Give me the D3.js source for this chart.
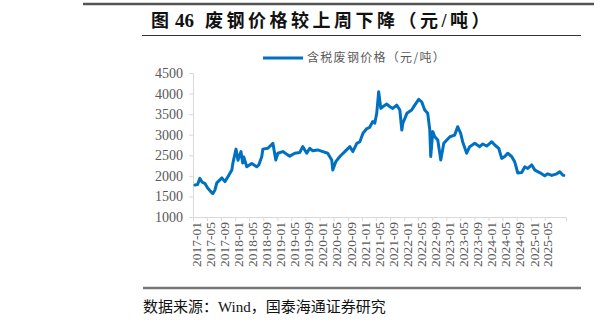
<!DOCTYPE html>
<html>
<head>
<meta charset="utf-8">
<script src="https://cdn.jsdelivr.net/npm/d3@7"></script>
<style>
  html, body { margin: 0; padding: 0; background: #fff; }
  svg { display: block; }
</style>
</head>
<body>
<svg id="chart" width="600" height="323"></svg>
<script>
// ---- Data ----
const titleText = "废钢价格较上周下降（元/吨）";
const seriesName = "含税废钢价格（元/吨）";
const sourceText = "数据来源：Wind，国泰海通证券研究";

const dates = [
  "2017-01-18","2017-02-10","2017-03-01","2017-03-20","2017-04-13","2017-05-09","2017-06-13","2017-06-22","2017-07-09","2017-07-26",
  "2017-09-08","2017-10-04","2017-10-30","2017-12-03","2017-12-12","2018-01-08","2018-01-25","2018-02-20","2018-03-07","2018-03-16",
  "2018-04-11","2018-05-24","2018-07-06","2018-07-24","2018-08-19","2018-08-28","2018-10-10","2018-11-23","2018-12-18","2019-01-05",
  "2019-02-17","2019-03-31","2019-04-18","2019-05-31","2019-07-13","2019-08-08","2019-09-12","2019-10-08","2019-11-03","2019-12-16",
  "2020-01-29","2020-03-11","2020-04-15","2020-04-24","2020-05-20","2020-06-24","2020-08-06","2020-09-19","2020-10-14","2020-11-18",
  "2020-12-14","2021-01-10","2021-02-13","2021-03-09","2021-04-05","2021-04-22","2021-05-09","2021-05-26","2021-06-13","2021-06-30",
  "2021-08-04","2021-08-30","2021-09-25","2021-10-29","2021-11-25","2021-12-12","2021-12-21","2022-01-25","2022-03-07","2022-04-03",
  "2022-05-07","2022-06-02","2022-06-28","2022-07-24","2022-08-11","2022-08-19","2022-09-06","2022-09-23","2022-10-19","2022-11-14",
  "2022-12-10","2023-01-05","2023-02-01","2023-03-14","2023-04-09","2023-05-05","2023-05-22","2023-06-26","2023-07-22","2023-09-04",
  "2023-10-17","2023-11-12","2023-12-16","2024-01-29","2024-02-24","2024-03-29","2024-04-24","2024-05-20","2024-06-15","2024-07-19",
  "2024-08-14","2024-09-10","2024-10-14","2024-11-10","2024-12-05","2025-01-09","2025-02-05","2025-03-18","2025-05-01","2025-05-27",
  "2025-07-01","2025-08-13","2025-09-08","2025-10-04","2025-10-13"
];
const prices = [
  1780,1790,1940,1850,1820,1700,1590,1570,1650,1830,
  1950,1860,1980,2140,2310,2650,2380,2590,2310,2460,
  2220,2300,2220,2265,2470,2650,2670,2790,2385,2550,
  2590,2510,2480,2550,2565,2710,2550,2670,2610,2630,
  2590,2550,2385,2140,2345,2470,2590,2710,2590,2790,
  2830,3035,3150,3180,3320,3280,3520,4045,3640,3680,
  3745,3680,3640,3720,3600,3115,3280,3520,3600,3720,
  3860,3800,3600,3520,3115,2470,3075,2950,2870,2385,
  2790,2870,2950,2990,3195,3035,2830,2550,2710,2790,
  2710,2775,2725,2830,2750,2670,2425,2470,2550,2470,
  2345,2070,2080,2220,2180,2265,2140,2080,2000,2050,
  2010,2050,2100,2020,2010
];

const xTickLabels = [
  "2017-01","2017-05","2017-09","2018-01","2018-05","2018-09","2019-01","2019-05","2019-09",
  "2020-01","2020-05","2020-09","2021-01","2021-05","2021-09","2022-01","2022-05","2022-09",
  "2023-01","2023-05","2023-09","2024-01","2024-05","2024-09","2025-01","2025-05"
];
const yTicks = [1000,1500,2000,2500,3000,3500,4000,4500];
const xDomain = ["2017-01-01","2025-11-01"];

// ---- Drawing ----
const svg = d3.select("#chart");
const parse = d3.timeParse("%Y-%m-%d");
const parseM = d3.timeParse("%Y-%m");
const data = dates.map((d, i) => ({ date: parse(d), value: prices[i] }));

const plotLeft = 193, plotRight = 566, plotTop = 73, plotBottom = 217;
const x = d3.scaleTime().domain(xDomain.map(parse)).range([plotLeft, plotRight]);
const y = d3.scaleLinear().domain([1000, 4500]).range([plotBottom, plotTop]);

const axisColor = "#d9d9d9";
const labelColor = "#595959";
const serif = "'Liberation Serif', 'Times New Roman', 'Noto Sans CJK SC', serif";
const cjk = "'Liberation Serif', 'Noto Sans CJK SC', sans-serif";

// decorative rules
svg.append("line").attr("x1", 83).attr("x2", 594).attr("y1", 4).attr("y2", 4)
  .attr("stroke", "#555").attr("stroke-width", 2.5);
svg.append("line").attr("x1", 142).attr("x2", 581).attr("y1", 35.5).attr("y2", 35.5)
  .attr("stroke", "#333").attr("stroke-width", 1);
svg.append("line").attr("x1", 143).attr("x2", 581).attr("y1", 288).attr("y2", 288)
  .attr("stroke", "#777").attr("stroke-width", 2.5);

// title
const title = svg.append("text").attr("y", 27).attr("font-weight", "bold")
  .attr("fill", "#111").style("font-family", cjk).attr("font-size", 18);
title.append("tspan").attr("x", 151).text("图");
title.append("tspan").attr("x", 175).attr("font-size", 19)
  .style("font-family", "'Liberation Serif', serif").text("46");
title.append("tspan").attr("x", 205).attr("letter-spacing", 3.5).text(titleText);

// legend
svg.append("line").attr("x1", 263).attr("x2", 303).attr("y1", 58).attr("y2", 58)
  .attr("stroke", "#0070C0").attr("stroke-width", 3);
svg.append("text").attr("x", 307).attr("y", 62).attr("font-size", 12)
  .attr("letter-spacing", 1.3).attr("fill", labelColor)
  .style("font-family", "'Noto Sans CJK SC', sans-serif").text(seriesName);

// y axis
const yAxis = d3.axisLeft(y).tickValues(yTicks).tickSize(4).tickPadding(6).tickFormat(d3.format("d"));
const gy = svg.append("g").attr("transform", `translate(${plotLeft},0)`).call(yAxis);
gy.select(".domain").attr("stroke", axisColor);
gy.selectAll(".tick line").attr("stroke", axisColor);
gy.selectAll(".tick text").attr("fill", labelColor).attr("font-size", 14)
  .style("font-family", serif);

// x axis
const xTickDates = xTickLabels.map(parseM);
const xAxis = d3.axisBottom(x).tickValues(xTickDates).tickSize(4).tickFormat(d3.timeFormat("%Y-%m"));
const gx = svg.append("g").attr("transform", `translate(0,${plotBottom})`).call(xAxis);
gx.select(".domain").attr("stroke", axisColor);
gx.selectAll(".tick line").attr("stroke", axisColor);
gx.selectAll(".tick text")
  .attr("fill", labelColor).attr("font-size", 13.5).style("font-family", serif)
  .attr("text-anchor", "end")
  .attr("transform", "translate(2.5,5) rotate(-90)")
  .attr("x", 0).attr("y", 0).attr("dy", "0.35em");

// series line
const line = d3.line().x(d => x(d.date)).y(d => y(d.value));
svg.append("path").datum(data).attr("d", line)
  .attr("fill", "none").attr("stroke", "#0070C0").attr("stroke-width", 3)
  .attr("stroke-linejoin", "round").attr("stroke-linecap", "round");

// source
svg.append("text").attr("x", 143).attr("y", 312).attr("font-size", 15)
  .attr("fill", "#111").style("font-family", cjk).text(sourceText);
</script>
</body>
</html>
